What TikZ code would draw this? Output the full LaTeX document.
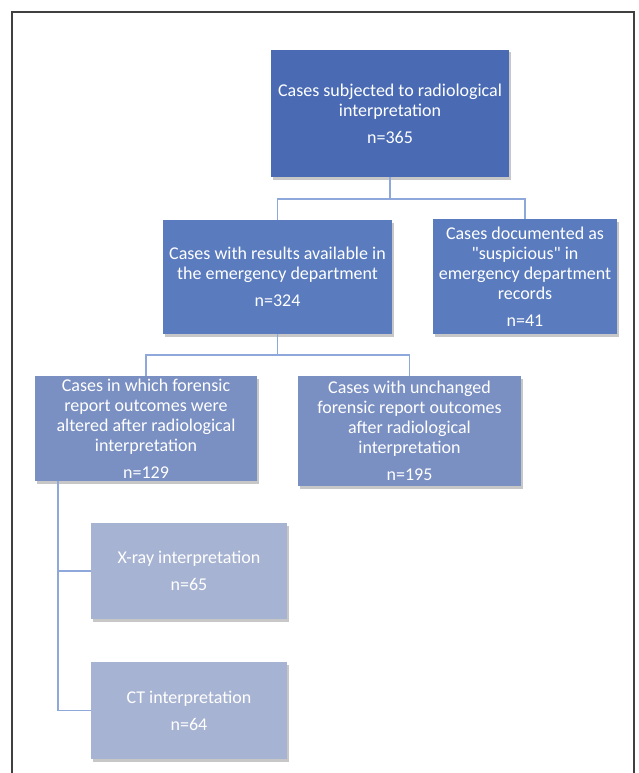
\documentclass[tikz,border=0pt]{standalone}
\usepackage{fontspec}
\setmainfont{Carlito}[Ligatures=TeXOff]
\usetikzlibrary{positioning,shadows}
\definecolor{flowTop}{HTML}{4A6BB4}
\definecolor{flowMid}{HTML}{5A7BBE}
\definecolor{flowLow}{HTML}{7A8FC2}
\definecolor{flowSub}{HTML}{A7B3D2}
\definecolor{flowLink}{HTML}{8FA8DB}
\definecolor{flowFrame}{HTML}{404040}

\begin{document}
\begin{tikzpicture}[x=1pt, y=-1pt,
      box/.style={fill=#1, text=white, align=center, inner sep=1pt,
                  font=\fontsize{18}{20}\selectfont,
                  drop shadow={shadow xshift=1.5pt, shadow yshift=-2.5pt,
                               opacity=0.22, fill=black}},
      link/.style={draw=flowLink, line width=1.6pt}]
    \useasboundingbox (0,0) rectangle (639,773);
    % frame, open at the bottom
    \draw[flowFrame, line width=1.5pt] (12,773) -- (12,12) -- (634,12) -- (634,773);
    % top level
    \node[box=flowTop, minimum width=238pt, minimum height=127pt] (top) at (390,113.5)
      {Cases subjected to radiological\\interpretation\\[7pt]n=365};
    % second level
    \node[box=flowMid, minimum width=229pt, minimum height=114pt] (avail) at (277.5,277)
      {Cases with results available in\\the emergency department\\[7pt]n=324};
    \node[box=flowMid, minimum width=184pt, minimum height=115pt] (susp) at (525,276.5)
      {Cases documented as\\"suspicious" in\\emergency department\\records\\[7pt]n=41};
    % third level
    \node[box=flowLow, minimum width=222pt, minimum height=105pt] (altered) at (146,428.5)
      {Cases in which forensic\\report outcomes were\\altered after radiological\\interpretation\\[7pt]n=129};
    \node[box=flowLow, minimum width=223pt, minimum height=110pt] (unchanged) at (409.5,431)
      {Cases with unchanged\\forensic report outcomes\\after radiological\\interpretation\\[7pt]n=195};
    % modality
    \node[box=flowSub, minimum width=196pt, minimum height=96pt] (xray) at (189,571)
      {X-ray interpretation\\[7pt]n=65};
    \node[box=flowSub, minimum width=196pt, minimum height=97pt] (ct) at (189,710.5)
      {CT interpretation\\[7pt]n=64};
    % connectors
    \draw[link] (top.south) -- ++(0,22) -| (avail.north);
    \draw[link] (top.south) -- ++(0,22) -| (susp.north);
    \draw[link] (avail.south) -- ++(0,21) -| (altered.north);
    \draw[link] (avail.south) -- ++(0,21) -| (unchanged.north);
    \coordinate (stem) at ([xshift=23pt]altered.south west);
    \draw[link] (stem) |- (xray.west);
    \draw[link] (stem) |- (ct.west);
  \end{tikzpicture}
\end{document}
